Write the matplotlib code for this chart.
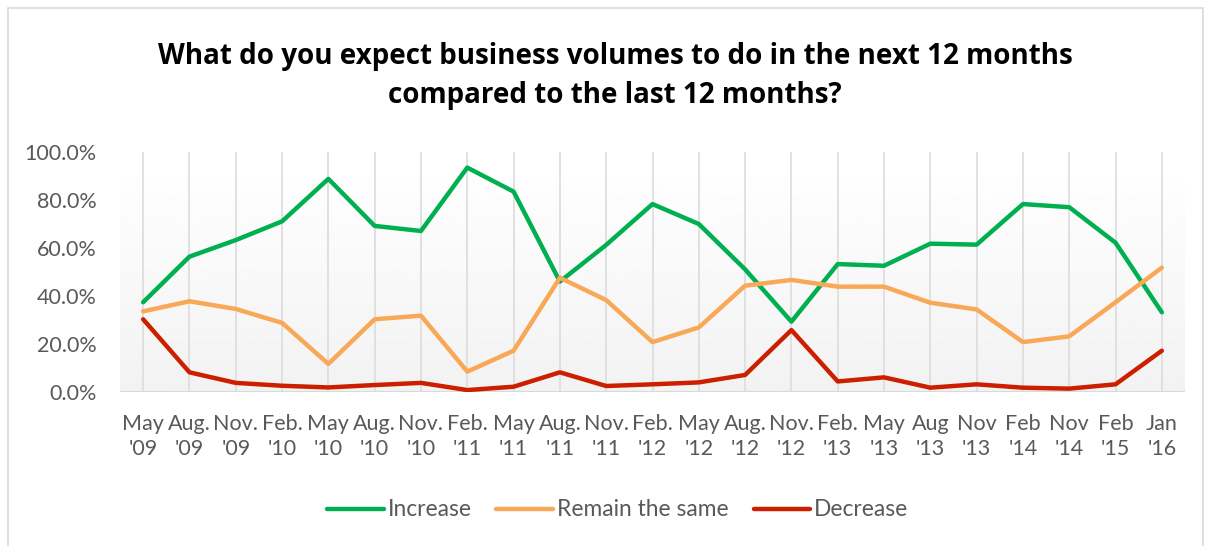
import numpy as np
import matplotlib.pyplot as plt
from matplotlib.patches import Rectangle

# survey rounds (two-line category labels)
periods = ["May\n'09", "Aug.\n'09", "Nov.\n'09", "Feb.\n'10", "May\n'10", "Aug.\n'10",
           "Nov.\n'10", "Feb.\n'11", "May\n'11", "Aug.\n'11", "Nov.\n'11", "Feb.\n'12",
           "May\n'12", "Aug.\n'12", "Nov.\n'12", "Feb.\n'13", "May\n'13", "Aug\n'13",
           "Nov\n'13", "Feb\n'14", "Nov\n'14", "Feb\n'15", "Jan\n'16"]

increase = [37.4, 56.4, 63.3, 71.1, 88.8, 69.2, 67.1, 93.5, 83.5, 46.0, 61.3, 78.3,
            70.0, 51.1, 29.3, 53.3, 52.6, 61.8, 61.4, 78.3, 77.0, 62.2, 33.2]
same = [33.6, 37.8, 34.6, 28.8, 11.7, 30.3, 31.8, 8.5, 17.2, 47.6, 38.3, 20.8,
        26.9, 44.3, 46.7, 43.9, 43.9, 37.2, 34.4, 20.8, 23.2, 37.4, 51.8]
decrease = [30.3, 8.2, 3.8, 2.6, 1.9, 2.9, 3.8, 0.8, 2.2, 8.2, 2.5, 3.2,
            4.0, 7.1, 25.8, 4.4, 6.1, 1.8, 3.2, 1.8, 1.4, 3.2, 17.2]

W, H = 1211, 546
fig = plt.figure(figsize=(W / 100, H / 100), dpi=100)
fig.patch.set_facecolor("white")

# thin frame around the chart
fig.patches.append(Rectangle((8 / W, -0.05), 1195 / W, (H - 8) / H + 0.05,
                             transform=fig.transFigure, fill=False,
                             edgecolor="#d9d9d9", linewidth=1.2))

ax = fig.add_axes([120 / W, 154 / H, 1065 / W, 240 / H])
x = np.arange(len(periods))
ax.set_xlim(-0.5, len(periods) - 0.5)
ax.set_ylim(0, 100)

# soft vertical gradient in the plot area
grad = np.linspace(0.95, 1.0, 256).reshape(-1, 1)
ax.imshow(grad, cmap="gray", vmin=0, vmax=1, aspect="auto",
          extent=(-0.5, len(periods) - 0.5, 0, 97), origin="lower", zorder=0)

for xi in x:
    ax.axvline(xi, color="#dedede", linewidth=1.3, zorder=1)
ax.axhline(0, color="#d9d9d9", linewidth=1.5, zorder=1)

ax.plot(x, increase, color="#00b050", linewidth=3.2, label="Increase", zorder=3,
        solid_capstyle="round")
ax.plot(x, same, color="#f9a857", linewidth=3.2, label="Remain the same", zorder=3,
        solid_capstyle="round")
ax.plot(x, decrease, color="#cc1f00", linewidth=3.2, label="Decrease", zorder=3,
        solid_capstyle="round")

for s in ax.spines.values():
    s.set_visible(False)

ax.set_yticks(np.arange(0, 101, 20))
ax.set_yticklabels([f"{v:.1f}%" for v in np.arange(0, 101, 20)])
ax.set_xticks(x)
ax.set_xticklabels(periods, linespacing=1.32)
ax.tick_params(axis="both", length=0, colors="#595959", labelsize=15.5)
ax.tick_params(axis="y", pad=17)
ax.tick_params(axis="x", pad=15.5)
for lbl in ax.get_xticklabels() + ax.get_yticklabels():
    lbl.set_family("Lato")

fig.text(0.508, 1 - 76 / H,
         "What do you expect business volumes to do in the next 12 months\n"
         "compared to the last 12 months?",
         ha="center", va="center", fontsize=20, fontweight="bold",
         family="Open Sans", linespacing=1.42, color="black")

leg = fig.legend(loc="center", bbox_to_anchor=(0.51, 1 - 510 / H), ncol=3,
                 frameon=False, handlelength=2.5, handletextpad=0.15,
                 columnspacing=1.1, prop={"family": "Lato", "size": 16.4})
for t in leg.get_texts():
    t.set_color("#595959")

fig.savefig("out.png", dpi=100)
